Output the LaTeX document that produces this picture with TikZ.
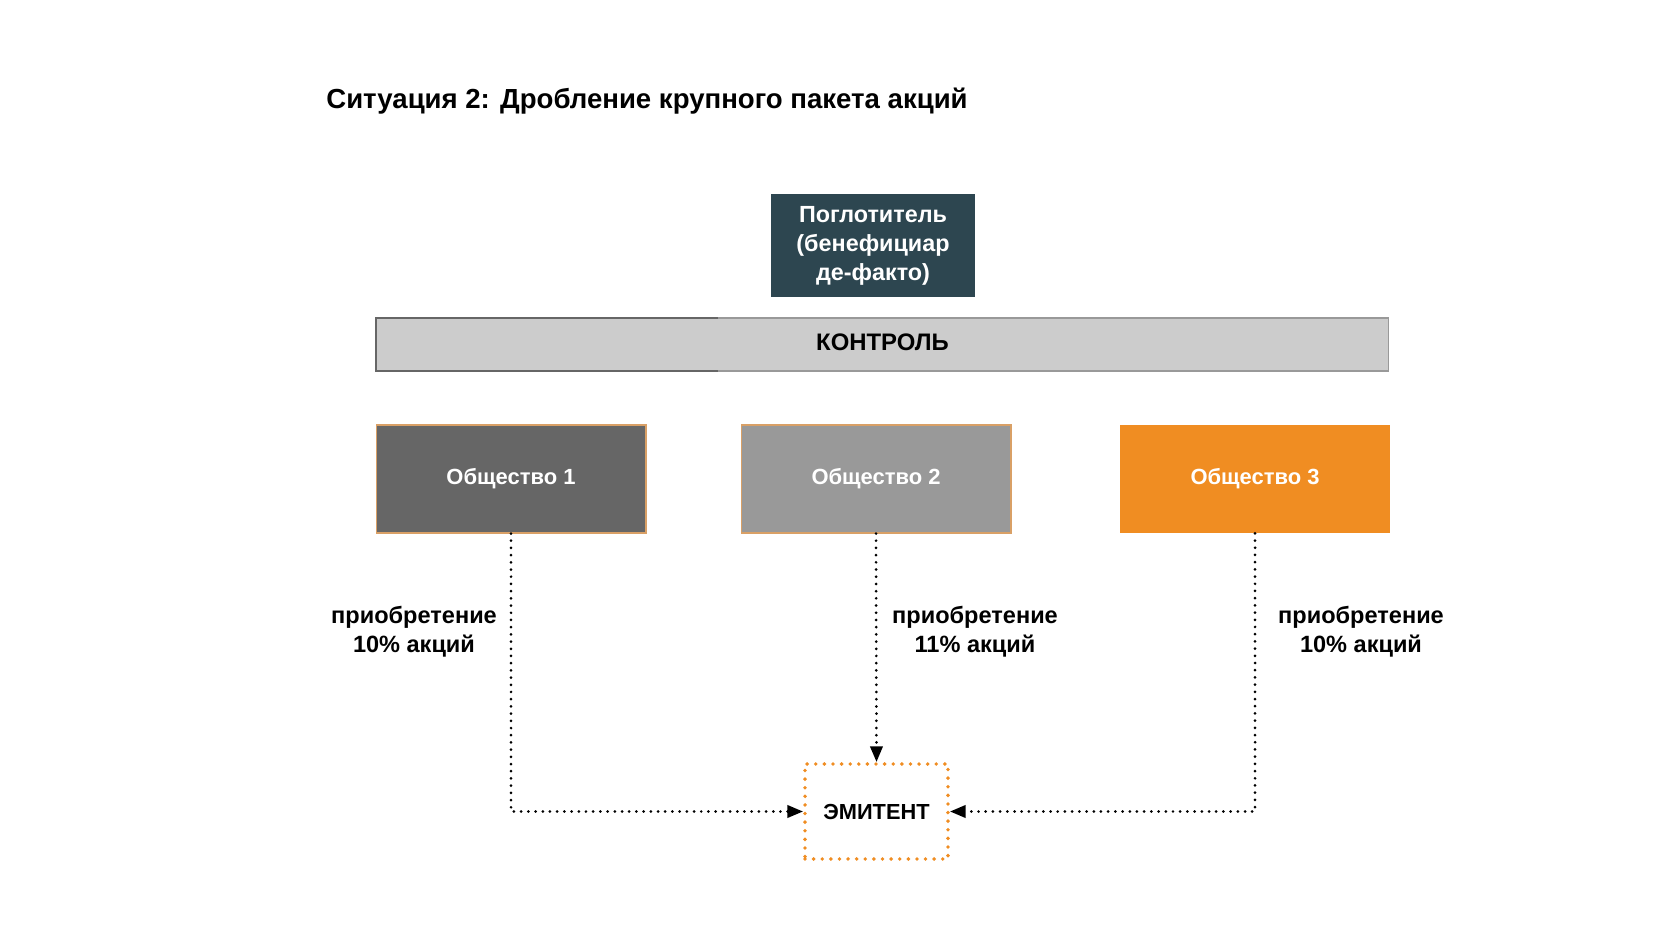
\documentclass[tikz,border=0pt]{standalone}
\usepackage{fontspec}
\setmainfont{Liberation Sans}
\usetikzlibrary{arrows.meta}

\definecolor{darkteal}{HTML}{2D4650}
\definecolor{barfill}{HTML}{CCCCCC}
\definecolor{firmone}{HTML}{666666}
\definecolor{firmtwo}{HTML}{999999}
\definecolor{firmorange}{HTML}{F08D22}
\definecolor{rimtan}{HTML}{D9A066}

\begin{document}
\begin{tikzpicture}[x=0.02cm, y=-0.02cm,
    firm/.style={minimum width=5.4cm, minimum height=2.16cm, inner sep=0pt,
      text=white, font=\fontsize{12.5}{15}\selectfont\bfseries},
    buylabel/.style={align=center, font=\fontsize{13.4}{16.5}\selectfont\bfseries},
    flow/.style={line width=1.7pt, dash pattern=on 0pt off 4.1pt, line cap=round,
      -{Triangle[length=9pt, width=7pt, line cap=butt]}}]
  % Canvas
  \fill[white] (0,0) rectangle (1680,945);

  % Title
  \node[anchor=west, inner sep=0pt, font=\fontsize{15.7}{18}\selectfont\bfseries] (title)
    at (326,101) {Ситуация 2: Дробление крупного пакета акций};

  % Beneficiary and control bar
  \node[fill=darkteal, text=white, align=center, minimum width=4.08cm, minimum height=2.06cm,
    inner sep=0pt, font=\fontsize{13.3}{16.5}\selectfont\bfseries] (owner)
    at (873,245.5) {Поглотитель\\(бенефициар\\де-факто)};
  \node[fill=barfill, draw=gray!80, line width=0.6pt, minimum width=20.26cm, minimum height=1.06cm,
    inner sep=0pt, text depth=3pt, font=\fontsize{13.6}{15}\selectfont\bfseries] (ctrl)
    at (882.5,344.5) {КОНТРОЛЬ};
  \draw[black!60, line width=0.6pt] (718,318) -| (376,371) -- (718,371);

  % Companies
  \node[firm, fill=firmone, draw=rimtan, line width=0.6pt] (f1) at (511,479) {Общество 1};
  \node[firm, fill=firmtwo, draw=rimtan, line width=0.6pt] (f2) at (876,479) {Общество 2};
  \node[firm, fill=firmorange] (f3) at (1255,479) {Общество 3};

  % Issuer
  \node[draw=firmorange, line width=2.2pt, dash pattern=on 0pt off 4.9pt, line cap=round,
    minimum width=2.86cm, minimum height=1.9cm, inner sep=0pt,
    font=\fontsize{12.4}{15}\selectfont\bfseries] (emit) at (876.5,811.5) {ЭМИТЕНТ};

  % Purchases
  \draw[flow] (f1.south) |- (emit.west);
  \draw[flow] (f2.south) -- (emit.north);
  \draw[flow] (f3.south) |- (emit.east);

  \node[buylabel] (buy1) at (414,632) {приобретение\\10\% акций};
  \node[buylabel] (buy2) at (975,632) {приобретение\\11\% акций};
  \node[buylabel] (buy3) at (1361,632) {приобретение\\10\% акций};
\end{tikzpicture}
\end{document}
